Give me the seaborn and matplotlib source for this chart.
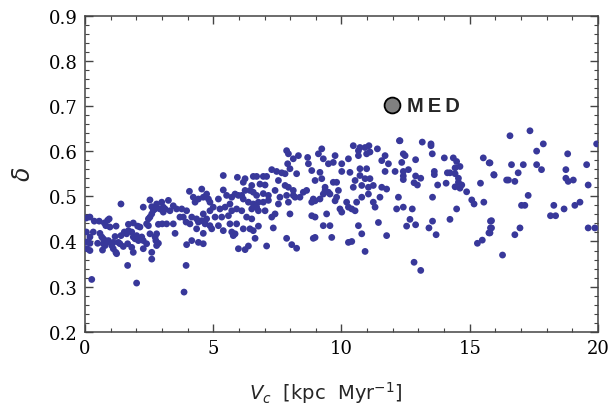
import matplotlib
matplotlib.use("Agg")
import matplotlib.pyplot as plt
from matplotlib.ticker import MultipleLocator
import pandas as pd
import seaborn as sns

vc_a = [0.19, 0.36, 0.55, 0.75, 0.88, 0.94, 0.97, 0.81, 1.21, 1.40, 1.69, 1.88, 2.05, 2.14,
        2.27, 2.40, 2.47, 2.53, 2.60, 2.66, 2.73, 2.60, 2.53, 2.47, 2.79, 2.92, 2.99, 3.05,
        3.01, 2.86, 0.19, 0.32, 0.58, 0.65, 0.71, 0.78, 0.84, 0.91, 1.10, 1.17, 1.30, 1.36,
        1.40, 1.53, 1.62, 1.69, 1.82, 1.88, 1.95, 2.01, 2.08, 2.21, 2.27, 2.53, 2.73, 2.79,
        2.76, 2.86, 2.40, 0.19, 0.49, 0.71, 0.78, 1.04, 1.10, 1.20, 1.23, 1.49, 1.66, 1.82,
        1.88, 2.27, 2.60, 2.60, 2.79, 0.19, 0.68, 1.66, 0.26, 2.01,
        0.05, 0.05, 0.05, 0.08]
delta_a = [0.454, 0.445, 0.445, 0.441, 0.447, 0.450, 0.432, 0.435, 0.434, 0.483, 0.438, 0.441, 0.434, 0.432,
           0.476, 0.439, 0.435, 0.492, 0.477, 0.469, 0.472, 0.461, 0.454, 0.450, 0.483, 0.472, 0.487, 0.476,
           0.439, 0.438, 0.410, 0.421, 0.418, 0.410, 0.406, 0.402, 0.398, 0.402, 0.398, 0.411, 0.398, 0.395,
           0.413, 0.421, 0.417, 0.424, 0.421, 0.410, 0.406, 0.413, 0.402, 0.410, 0.402, 0.417, 0.410, 0.417,
           0.402, 0.396, 0.395, 0.396, 0.396, 0.395, 0.391, 0.391, 0.384, 0.376, 0.373, 0.389, 0.395, 0.387,
           0.376, 0.384, 0.376, 0.361, 0.391, 0.380, 0.381, 0.347, 0.316, 0.308,
           0.452, 0.421, 0.399, 0.384]

vc_b = [5.39, 5.94, 4.07, 4.55, 5.39, 4.22, 4.29, 4.42, 4.61, 4.74, 4.81, 4.87, 5.20, 5.52,
        5.72, 5.85, 5.98, 3.25, 3.44, 3.12, 3.05, 3.31, 3.57, 3.77, 3.96, 3.70, 3.83,
        4.16, 4.35, 4.61, 4.87, 5.00, 5.26, 5.46, 5.65, 5.72, 5.91, 5.59, 5.33, 5.07, 4.74, 4.55,
        4.42, 4.09, 3.94, 3.44, 3.18, 4.68, 4.87, 5.20, 5.65, 5.91, 4.35, 4.61, 4.94, 5.39,
        5.72, 5.78, 3.51, 4.16, 4.42, 4.61, 3.96, 5.98, 3.94, 3.86]
delta_b = [0.546, 0.542, 0.511, 0.516, 0.514, 0.498, 0.487, 0.494, 0.498, 0.505, 0.494, 0.487, 0.494, 0.502,
           0.498, 0.505, 0.502, 0.491, 0.479, 0.472, 0.465, 0.468, 0.472, 0.472, 0.468, 0.454, 0.454,
           0.454, 0.450, 0.461, 0.468, 0.476, 0.472, 0.476, 0.483, 0.468, 0.472, 0.457, 0.454, 0.454, 0.450, 0.446,
           0.443, 0.439, 0.443, 0.439, 0.439, 0.439, 0.435, 0.435, 0.439, 0.439, 0.428, 0.418, 0.428, 0.424,
           0.421, 0.413, 0.418, 0.402, 0.398, 0.395, 0.393, 0.384, 0.347, 0.288]

vc_c = [7.86, 7.93, 8.32, 8.12, 8.68, 8.71, 7.90, 7.99, 8.25, 8.84, 7.28, 7.47, 7.67, 7.80,
        6.56, 6.69, 6.95, 7.08, 6.24, 6.17, 6.82, 7.02, 7.54, 7.80, 7.93, 8.12, 8.51, 8.64,
        6.50, 6.43, 6.24, 6.11, 6.56, 6.69, 6.95, 7.15, 7.41, 7.60, 7.86, 8.12, 8.38, 8.90,
        6.17, 6.37, 6.56, 6.69, 6.76, 6.95, 7.15, 7.54, 7.93, 8.84, 6.11, 6.50, 6.76, 7.02,
        7.41, 7.28, 7.99, 8.84, 6.30, 6.50, 6.17, 6.43, 6.56, 6.76, 7.34, 5.85, 6.63, 7.86,
        8.90, 6.24, 6.37, 7.08, 8.06, 8.25, 8.19]
delta_c = [0.601, 0.594, 0.590, 0.583, 0.586, 0.572, 0.572, 0.561, 0.550, 0.557, 0.559, 0.555, 0.552, 0.550,
           0.544, 0.544, 0.544, 0.544, 0.539, 0.531, 0.527, 0.525, 0.535, 0.524, 0.520, 0.513, 0.509, 0.513,
           0.524, 0.513, 0.513, 0.502, 0.509, 0.502, 0.506, 0.502, 0.513, 0.498, 0.502, 0.502, 0.498, 0.494,
           0.494, 0.487, 0.483, 0.476, 0.487, 0.487, 0.491, 0.483, 0.487, 0.487, 0.468, 0.472, 0.468, 0.468,
           0.461, 0.454, 0.461, 0.457, 0.454, 0.450, 0.428, 0.428, 0.424, 0.434, 0.430, 0.417, 0.407, 0.407,
           0.407, 0.382, 0.390, 0.390, 0.393, 0.385, 0.498]

vc_d = [10.46, 10.72, 10.92, 11.07, 10.66, 10.98, 11.11, 11.40, 12.26, 9.23, 9.10, 9.75, 9.29, 9.68,
        9.49, 10.01, 10.27, 10.66, 10.72, 10.33, 10.01, 10.98, 11.57, 11.70, 11.83, 11.70,
        11.11, 10.92, 10.53, 10.72, 10.46, 10.79, 11.05, 11.24, 11.57, 11.76, 11.50, 11.24,
        11.31, 11.05, 10.79, 10.59, 10.40, 10.53, 10.27, 9.94, 10.01, 10.20, 9.81, 9.75, 9.88, 9.68,
        9.81, 9.49, 9.36, 9.36, 9.29, 9.55, 9.16, 8.97, 8.97, 9.16, 9.23, 8.97, 9.42,
        10.66, 10.79, 11.44, 11.76, 9.62, 9.29, 9.55, 8.97, 10.27, 10.40, 10.92]
delta_d = [0.612, 0.608, 0.608, 0.612, 0.601, 0.594, 0.598, 0.605, 0.623, 0.605, 0.594, 0.590, 0.583, 0.575,
           0.572, 0.572, 0.583, 0.590, 0.561, 0.553, 0.555, 0.561, 0.579, 0.590, 0.572, 0.555,
           0.539, 0.539, 0.535, 0.546, 0.520, 0.524, 0.520, 0.524, 0.520, 0.516, 0.498, 0.487,
           0.476, 0.505, 0.498, 0.487, 0.472, 0.468, 0.476, 0.472, 0.465, 0.487, 0.498, 0.490, 0.513, 0.531,
           0.531, 0.509, 0.520, 0.513, 0.505, 0.505, 0.494, 0.490, 0.535, 0.553, 0.539, 0.454, 0.461,
           0.435, 0.417, 0.442, 0.413, 0.409, 0.435, 0.435, 0.409, 0.398, 0.400, 0.378]

vc_e = [12.28, 13.15, 13.49, 13.49, 12.41, 12.48, 12.35, 12.89, 13.54, 14.01, 14.36, 14.49, 14.62, 14.43,
        15.53, 15.76, 12.09, 12.41, 12.61, 12.41, 12.41, 12.89, 13.09, 12.83, 12.96, 13.62, 13.62, 14.13,
        14.23, 14.43, 14.56, 14.56, 14.69, 14.62, 14.43, 13.75, 14.08, 14.88, 15.42, 15.94, 12.22, 13.55,
        15.08, 15.17, 15.55, 12.15, 12.41, 12.76, 14.49, 12.67, 12.54, 12.89, 13.55, 13.41, 13.69, 14.23,
        15.81, 15.81, 15.75, 15.49, 15.30, 12.83, 13.09]
delta_e = [0.623, 0.620, 0.616, 0.612, 0.594, 0.590, 0.575, 0.581, 0.594, 0.585, 0.585, 0.577, 0.566, 0.563,
           0.585, 0.574, 0.555, 0.555, 0.559, 0.545, 0.537, 0.545, 0.540, 0.530, 0.525, 0.555, 0.548, 0.552,
           0.552, 0.550, 0.540, 0.531, 0.525, 0.518, 0.521, 0.525, 0.529, 0.510, 0.529, 0.548, 0.498, 0.498,
           0.492, 0.483, 0.487, 0.472, 0.476, 0.472, 0.472, 0.449, 0.434, 0.437, 0.445, 0.430, 0.415, 0.449,
           0.445, 0.430, 0.419, 0.403, 0.396, 0.354, 0.336]

vc_f = [16.57, 17.35, 17.87, 17.61, 18.82, 19.95, 15.79, 16.63, 17.09, 17.61, 17.80, 18.75, 19.56, 15.95,
        16.44, 16.51, 16.76, 16.89, 18.75, 18.84, 19.04, 19.62, 17.28, 17.02, 17.15, 18.28, 18.68, 19.10,
        19.30, 18.15, 18.35, 15.85, 15.85, 15.79, 16.96, 16.76, 19.62, 19.88, 16.28]
delta_f = [0.634, 0.645, 0.616, 0.600, 0.594, 0.616, 0.574, 0.570, 0.570, 0.570, 0.559, 0.559, 0.570, 0.547,
           0.536, 0.536, 0.533, 0.552, 0.540, 0.533, 0.536, 0.525, 0.502, 0.480, 0.480, 0.480, 0.472, 0.480,
           0.487, 0.457, 0.457, 0.446, 0.430, 0.419, 0.430, 0.415, 0.430, 0.430, 0.370]

med_vc = [11.97]
med_delta = [0.702]

df = pd.DataFrame({
    "vc": vc_a + vc_b + vc_c + vc_d + vc_e + vc_f,
    "delta": delta_a + delta_b + delta_c + delta_d + delta_e + delta_f,
})

sns.set_style("ticks")
fig = plt.figure(figsize=(6.12, 4.14), dpi=100)
ax = fig.add_axes([0.139, 0.196, 0.838, 0.764])

sns.scatterplot(data=df, x="vc", y="delta", ax=ax, color="#38389a",
                s=24, edgecolor="none", linewidth=0, legend=False, zorder=3)

# MED point
ax.scatter(med_vc, med_delta, s=130, color="#808080", edgecolor="black",
           linewidth=1.3, zorder=4)
ax.text(12.55, med_delta[0], "M\u2009E\u2009D", fontsize=14.5, fontweight="bold",
        family=["Liberation Sans", "DejaVu Sans"], va="center", ha="left")

ax.set_xlim(0, 20)
ax.set_ylim(0.2, 0.9)
ax.xaxis.set_major_locator(MultipleLocator(5))
ax.xaxis.set_minor_locator(MultipleLocator(1))
ax.yaxis.set_major_locator(MultipleLocator(0.1))
ax.yaxis.set_minor_locator(MultipleLocator(0.02))
ax.yaxis.set_major_formatter(plt.FuncFormatter(lambda v, p: f"{v:.1f}"))

ax.tick_params(which="both", direction="in", top=True, right=True, color="#444444",
               labelcolor="black")
ax.tick_params(which="major", length=6, width=1, labelsize=13, pad=5)
ax.tick_params(which="minor", length=3, width=0.8)
for lab in ax.get_xticklabels() + ax.get_yticklabels():
    lab.set_family("DejaVu Serif")
for sp in ax.spines.values():
    sp.set_color("#444444")
    sp.set_linewidth(1.1)

ax.set_xlabel(r"$V_c$  [kpc  Myr$^{-1}$]", fontsize=14)
ax.xaxis.set_label_coords(0.47, -0.15)
ax.set_ylabel(r"$\delta$", fontsize=17, labelpad=10, rotation=90)

fig.savefig("out.png", dpi=100)
